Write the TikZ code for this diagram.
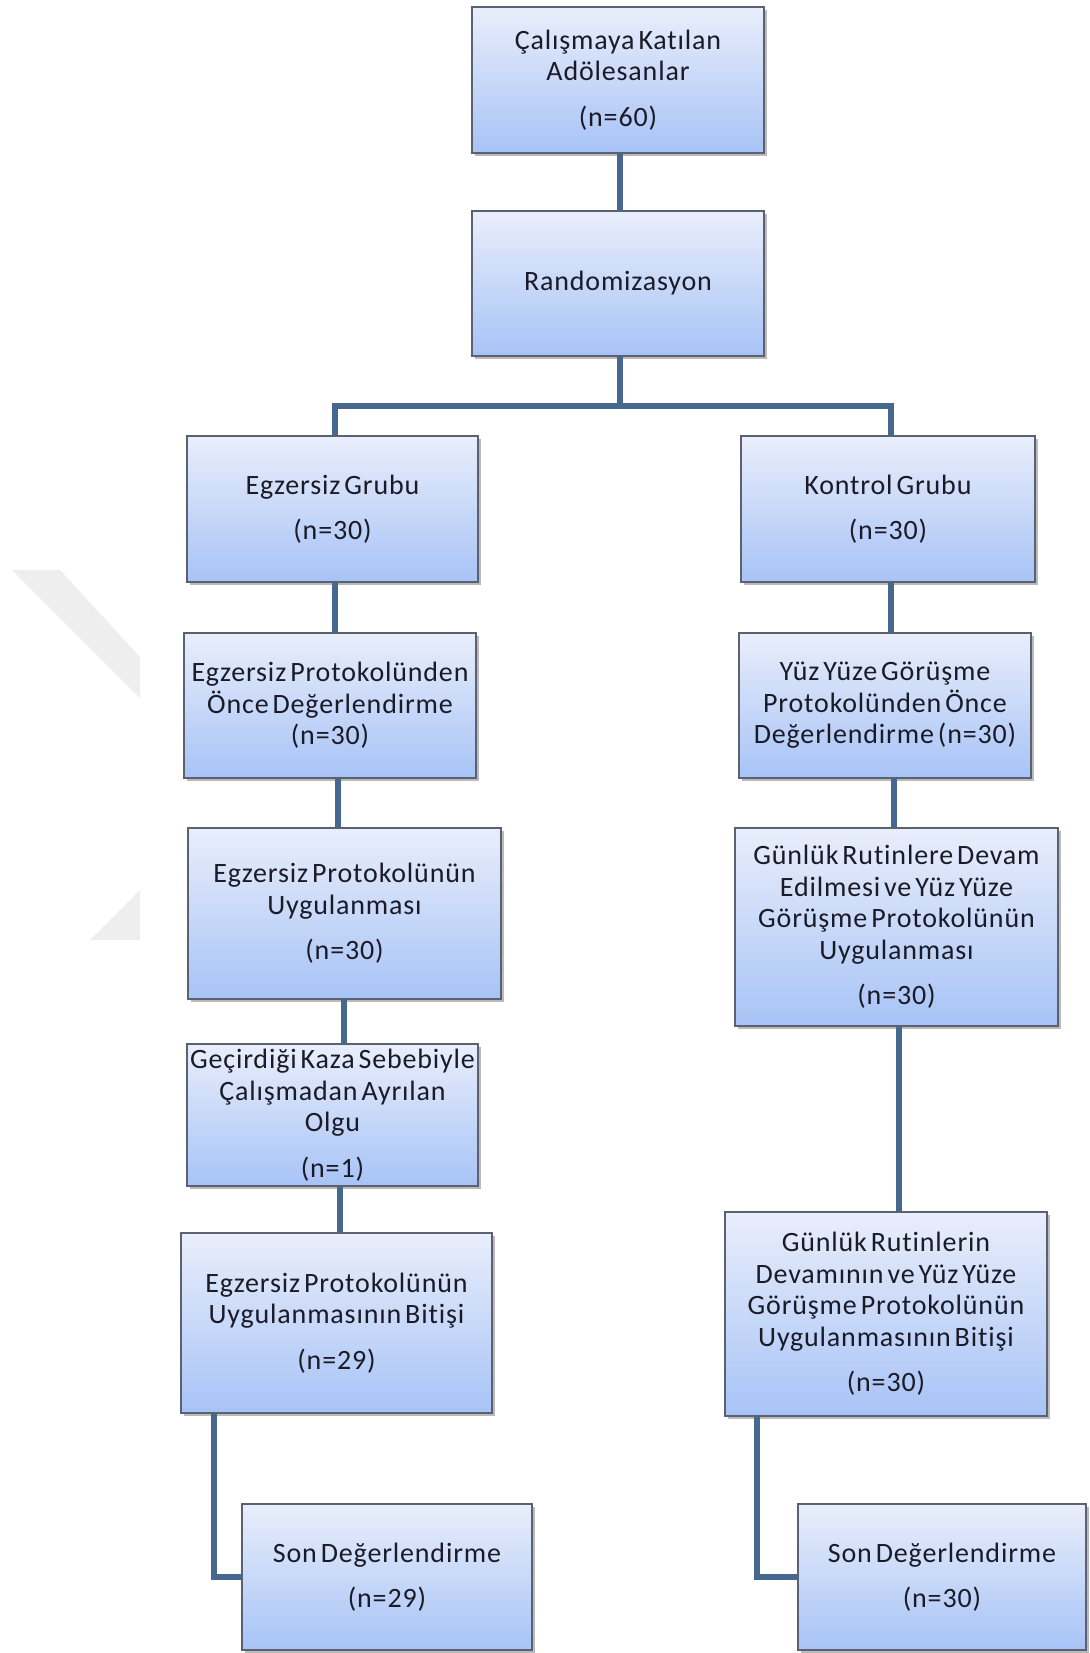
\documentclass[tikz,border=0pt]{standalone}
\usepackage{fontspec}
\setmainfont{Carlito}[LetterSpace=3, WordSpace=0.55, Ligatures=NoCommon]
\usetikzlibrary{shadows}
\definecolor{boxtop}{HTML}{E9EEFB}
\definecolor{boxbot}{HTML}{A7C3F6}
\definecolor{boxline}{HTML}{5B6170}
\definecolor{linkblue}{HTML}{46678E}
\definecolor{txt}{HTML}{1B1B28}
\definecolor{wmark}{HTML}{EEEEEE}
\tikzset{
  stage/.style={draw=boxline, line width=0.6pt, top color=boxtop, bottom color=boxbot,
    align=center, text=txt, font=\fontsize{14}{15.75}\selectfont, inner sep=0.5pt,
    drop shadow={shadow xshift=1.5pt, shadow yshift=-1.5pt, opacity=0.45, fill=black!60}},
  flow/.style={draw=linkblue, line width=2.6pt},
}
\begin{document}
\begin{tikzpicture}[x=0.5pt, y=-0.5pt]
        \useasboundingbox (0,0) rectangle (1089,1653);
        \fill[wmark] (12,570) -- (60,570) -- (140,657) -- (140,698) -- cycle;
        \fill[wmark] (140,890) -- (140,940) -- (90,940) -- cycle;
        \node [stage, minimum width=146pt, minimum height=73pt] (Top) at (618,80) {Çalışmaya Katılan\\Adölesanlar\\[7pt](n=60)};
        \node [stage, minimum width=146pt, minimum height=72.5pt] (Rand) at (618,283.5) {Randomizasyon};
        \node [stage, minimum width=145.5pt, minimum height=73pt] (Egz) at (332.5,509) {Egzersiz Grubu\\[7pt](n=30)};
        \node [stage, minimum width=147pt, minimum height=73pt] (Kon) at (888,509) {Kontrol Grubu\\[7pt](n=30)};
        \node [stage, minimum width=146pt, minimum height=72.5pt] (EgzOnce) at (330,705.5) {Egzersiz Protokolünden\\Önce Değerlendirme\\(n=30)};
        \node [stage, minimum width=146pt, minimum height=72.5pt] (KonOnce) at (885,705.5) {Yüz Yüze Görüşme\\Protokolünden Önce\\Değerlendirme (n=30)};
        \node [stage, minimum width=156.5pt, minimum height=85.5pt] (EgzUyg) at (344.5,913.5) {Egzersiz Protokolünün\\Uygulanması\\[7pt](n=30)};
        \node [stage, minimum width=161.5pt, minimum height=99pt] (KonUyg) at (896.5,927) {Günlük Rutinlere Devam\\Edilmesi ve Yüz Yüze\\Görüşme Protokolünün\\Uygulanması\\[7pt](n=30)};
        \node [stage, minimum width=145.5pt, minimum height=71pt] (Kaza) at (332.5,1115) {Geçirdiği Kaza Sebebiyle\\Çalışmadan Ayrılan\\Olgu\\[7pt](n=1)};
        \node [stage, minimum width=155.5pt, minimum height=90pt] (EgzBitis) at (336.5,1323) {Egzersiz Protokolünün\\Uygulanmasının Bitişi\\[7pt](n=29)};
        \node [stage, minimum width=161pt, minimum height=102pt] (KonBitis) at (886,1314) {Günlük Rutinlerin\\Devamının ve Yüz Yüze\\Görüşme Protokolünün\\Uygulanmasının Bitişi\\[7pt](n=30)};
        \node [stage, minimum width=145pt, minimum height=73pt] (SonL) at (387,1577) {Son Değerlendirme\\[7pt](n=29)};
        \node [stage, minimum width=144pt, minimum height=73pt] (SonR) at (942,1577) {Son Değerlendirme\\[7pt](n=30)};
        \coordinate (Split) at (620,406);
        \draw [flow] (Top.south -| Split) to (Rand.north -| Split);
        \draw [flow] (Rand.south -| Split) to (Split);
        \draw [flow] (Split) -| (335,0 |- Egz.north);
        \draw [flow] (Split) -| (891,0 |- Kon.north);
        \draw [flow] (Egz.south -| 335,0) to (EgzOnce.north -| 335,0);
        \draw [flow] (EgzOnce.south -| 338,0) to (EgzUyg.north -| 338,0);
        \draw [flow] (EgzUyg.south -| 344,0) to (Kaza.north -| 344,0);
        \draw [flow] (Kaza.south -| 340,0) to (EgzBitis.north -| 340,0);
        \draw [flow] (EgzBitis.south -| 214,0) |- (SonL.west);
        \draw [flow] (Kon.south -| 891,0) to (KonOnce.north -| 891,0);
        \draw [flow] (KonOnce.south -| 894,0) to (KonUyg.north -| 894,0);
        \draw [flow] (KonUyg.south -| 899,0) to (KonBitis.north -| 899,0);
        \draw [flow] (KonBitis.south -| 757,0) |- (SonR.west);
      \end{tikzpicture}
\end{document}
